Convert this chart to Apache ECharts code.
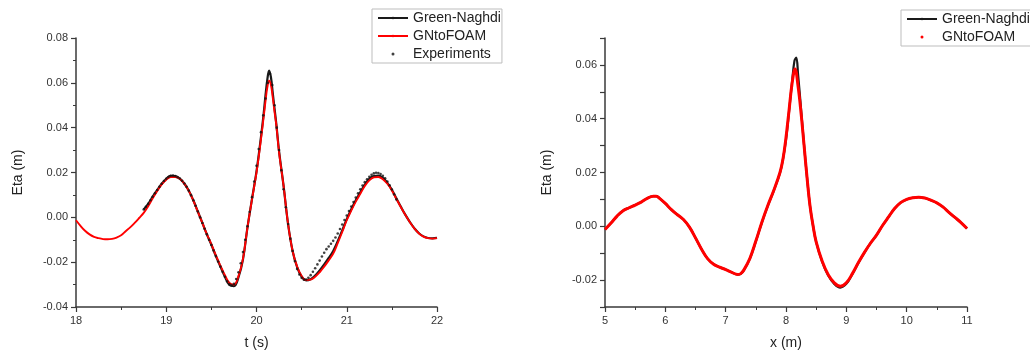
<!DOCTYPE html>
<html>
<head>
<meta charset="utf-8">
<script src="https://cdn.jsdelivr.net/npm/echarts@6/dist/echarts.min.js"></script>
<style>
  html, body { margin: 0; padding: 0; background: #fff; }
  #chart { width: 1030px; height: 351px; }
</style>
</head>
<body>
<div id="chart"></div>
<script>
// ---- left panel: time series at the gauge ----
const foamT = [18.00, 18.05, 18.10, 18.15, 18.20, 18.25, 18.30, 18.35, 18.40, 18.45,
  18.50, 18.55, 18.60, 18.65, 18.70, 18.75, 18.80, 18.85, 18.90, 18.95,
  19.00, 19.05, 19.10, 19.15, 19.20, 19.25, 19.30, 19.35, 19.40, 19.45,
  19.50, 19.55, 19.60, 19.65, 19.70, 19.75, 19.80, 19.85, 19.90, 19.95,
  20.00, 20.05, 20.08, 20.10, 20.12, 20.14, 20.16, 20.18, 20.20, 20.22,
  20.25, 20.30, 20.35, 20.40, 20.45, 20.50, 20.55, 20.60, 20.65, 20.70,
  20.75, 20.80, 20.85, 20.90, 20.95, 21.00, 21.05, 21.10, 21.15, 21.20,
  21.25, 21.30, 21.35, 21.40, 21.45, 21.50, 21.55, 21.60, 21.65, 21.70,
  21.75, 21.80, 21.85, 21.90, 21.95, 22.00];
const foamEta = [-0.0013, -0.0038, -0.0060, -0.0076, -0.0087, -0.0093, -0.0097, -0.0098, -0.0096, -0.0090,
  -0.0080, -0.0062, -0.0045, -0.0025, -0.0003, 0.0020, 0.0050, 0.0085, 0.0118, 0.0147,
  0.0168, 0.0180, 0.0180, 0.0172, 0.0150, 0.0118, 0.0075, 0.0025, -0.0025, -0.0075,
  -0.0120, -0.0170, -0.0215, -0.0258, -0.0293, -0.0300, -0.0262, -0.0185, -0.0045, 0.0080,
  0.0200, 0.0350, 0.0450, 0.0520, 0.0580, 0.0610, 0.0590, 0.0535, 0.0470, 0.0410,
  0.0290, 0.0140, -0.0030, -0.0150, -0.0220, -0.0262, -0.0280, -0.0278, -0.0265, -0.0245,
  -0.0220, -0.0192, -0.0162, -0.0115, -0.0065, -0.0013, 0.0030, 0.0070, 0.0105, 0.0140,
  0.0165, 0.0178, 0.0180, 0.0170, 0.0150, 0.0120, 0.0082, 0.0045, 0.0010, -0.0022,
  -0.0050, -0.0072, -0.0086, -0.0093, -0.0095, -0.0093];

const gnT = [18.75, 18.80, 18.85, 18.90, 18.95, 19.00, 19.05, 19.10, 19.15, 19.20,
  19.25, 19.30, 19.35, 19.40, 19.45, 19.50, 19.55, 19.60, 19.65, 19.70,
  19.75, 19.80, 19.85, 19.90, 19.95, 20.00, 20.05, 20.08, 20.10, 20.12,
  20.14, 20.16, 20.18, 20.20, 20.22, 20.25, 20.30, 20.35, 20.40, 20.45,
  20.50, 20.55, 20.60, 20.65, 20.70, 20.75, 20.80, 20.85, 20.90, 20.95,
  21.00, 21.05, 21.10, 21.15, 21.20, 21.25, 21.30, 21.35, 21.40, 21.45,
  21.50, 21.55, 21.60, 21.65, 21.70, 21.75, 21.80, 21.85, 21.90, 21.95, 22.00];
const gnEta = [0.0035, 0.0060, 0.0092, 0.0122, 0.0150, 0.0172, 0.0185, 0.0184, 0.0173, 0.0151,
  0.0119, 0.0076, 0.0026, -0.0025, -0.0076, -0.0123, -0.0173, -0.0220, -0.0265, -0.0302,
  -0.0307, -0.0268, -0.0188, -0.0045, 0.0082, 0.0205, 0.0360, 0.0465, 0.0545, 0.0615,
  0.0655, 0.0625, 0.0555, 0.0485, 0.0415, 0.0295, 0.0140, -0.0030, -0.0150, -0.0222,
  -0.0265, -0.0281, -0.0276, -0.0260, -0.0237, -0.0210, -0.0181, -0.0150, -0.0106, -0.0058,
  -0.0008, 0.0036, 0.0076, 0.0112, 0.0146, 0.0172, 0.0184, 0.0186, 0.0176, 0.0154,
  0.0123, 0.0085, 0.0047, 0.0011, -0.0021, -0.0049, -0.0071, -0.0085, -0.0092, -0.0094, -0.0092];

// gauge record, one sample every 0.025 s from 18.75 s
const expStart = 18.75;
const expStep = 0.025;
const expEta = [0.0035, 0.0047, 0.0060, 0.0076, 0.0092, 0.0107, 0.0122, 0.0136, 0.0150, 0.0162,
  0.0172, 0.0180, 0.0185, 0.0186, 0.0184, 0.0179, 0.0173, 0.0163, 0.0151, 0.0136,
  0.0119, 0.0099, 0.0076, 0.0052, 0.0026, 0.0000, -0.0025, -0.0051, -0.0076, -0.0100,
  -0.0123, -0.0148, -0.0173, -0.0197, -0.0220, -0.0243, -0.0265, -0.0285, -0.0298, -0.0303,
  -0.0297, -0.0275, -0.0245, -0.0205, -0.0155, -0.0100, -0.0040, 0.0025, 0.0090, 0.0160,
  0.0230, 0.0305, 0.0380, 0.0455, 0.0530, 0.0600, 0.0640, 0.0590, 0.0500, 0.0400,
  0.0300, 0.0210, 0.0125, 0.0045, -0.0030, -0.0095, -0.0150, -0.0195, -0.0230, -0.0255,
  -0.0270, -0.0278, -0.0277, -0.0270, -0.0258, -0.0243, -0.0227, -0.0210, -0.0193, -0.0175,
  -0.0158, -0.0142, -0.0130, -0.0118, -0.0105, -0.0090, -0.0072, -0.0052, -0.0032, -0.0012,
  0.0008, 0.0028, 0.0048, 0.0068, 0.0088, 0.0107, 0.0125, 0.0142, 0.0157, 0.0170,
  0.0181, 0.0190, 0.0196, 0.0199, 0.0198, 0.0193, 0.0185, 0.0174, 0.0160, 0.0143,
  0.0124, 0.0103, 0.0080];

// ---- right panel: free surface along the flume ----
const foamX = [5.0, 5.1, 5.2, 5.3, 5.4, 5.5, 5.6, 5.7, 5.8, 5.85,
  5.9, 6.0, 6.1, 6.2, 6.3, 6.4, 6.5, 6.6, 6.7, 6.8,
  6.9, 7.0, 7.1, 7.2, 7.25, 7.3, 7.4, 7.5, 7.6, 7.7,
  7.8, 7.9, 7.95, 8.0, 8.05, 8.1, 8.15, 8.2, 8.25, 8.3,
  8.35, 8.4, 8.45, 8.5, 8.6, 8.7, 8.8, 8.9, 9.0, 9.1,
  9.2, 9.3, 9.4, 9.5, 9.6, 9.7, 9.8, 9.9, 10.0, 10.1,
  10.2, 10.3, 10.4, 10.5, 10.6, 10.7, 10.8, 10.9, 11.0];
const foamXEta = [-0.0012, 0.0012, 0.0038, 0.0058, 0.0069, 0.0079, 0.0090, 0.0104, 0.0112, 0.0112,
  0.0105, 0.0085, 0.0062, 0.0043, 0.0025, -0.0003, -0.0043, -0.0085, -0.0120, -0.0141,
  -0.0152, -0.0161, -0.0171, -0.0179, -0.0176, -0.0163, -0.0120, -0.0055, 0.0015, 0.0078,
  0.0135, 0.0200, 0.0250, 0.0330, 0.0430, 0.0530, 0.0585, 0.0520, 0.0420, 0.0300,
  0.0178, 0.0072, 0.0000, -0.0058, -0.0130, -0.0180, -0.0210, -0.0223, -0.0210, -0.0176,
  -0.0135, -0.0097, -0.0063, -0.0033, 0.0003, 0.0035, 0.0066, 0.0088, 0.0100, 0.0106,
  0.0108, 0.0105, 0.0097, 0.0087, 0.0072, 0.0052, 0.0033, 0.0014, -0.0008];

const gnX = [5.0, 5.1, 5.2, 5.3, 5.4, 5.5, 5.6, 5.7, 5.8, 5.85,
  5.9, 6.0, 6.1, 6.2, 6.3, 6.4, 6.5, 6.6, 6.7, 6.8,
  6.9, 7.0, 7.1, 7.2, 7.25, 7.3, 7.4, 7.5, 7.6, 7.7,
  7.8, 7.9, 7.95, 8.0, 8.05, 8.1, 8.14, 8.17, 8.2, 8.25,
  8.3, 8.35, 8.4, 8.45, 8.5, 8.6, 8.7, 8.8, 8.9, 9.0,
  9.1, 9.2, 9.3, 9.4, 9.5, 9.6, 9.7, 9.8, 9.9, 10.0,
  10.1, 10.2, 10.3, 10.4, 10.5, 10.6, 10.7, 10.8, 10.9, 11.0];
const gnXEta = [-0.0012, 0.0012, 0.0038, 0.0058, 0.0069, 0.0079, 0.0090, 0.0104, 0.0112, 0.0112,
  0.0105, 0.0085, 0.0062, 0.0043, 0.0025, -0.0003, -0.0043, -0.0085, -0.0120, -0.0141,
  -0.0152, -0.0161, -0.0171, -0.0180, -0.0177, -0.0164, -0.0121, -0.0056, 0.0014, 0.0077,
  0.0134, 0.0198, 0.0250, 0.0322, 0.0425, 0.0535, 0.0615, 0.0627, 0.0565, 0.0435,
  0.0300, 0.0178, 0.0072, 0.0000, -0.0058, -0.0132, -0.0183, -0.0214, -0.0228, -0.0214,
  -0.0178, -0.0136, -0.0098, -0.0063, -0.0033, 0.0003, 0.0035, 0.0066, 0.0088, 0.0100,
  0.0106, 0.0108, 0.0105, 0.0097, 0.0087, 0.0072, 0.0052, 0.0033, 0.0014, -0.0008];

const pairs = (xs, ys) => xs.map((x, i) => [x, ys[i]]);
const expData = expEta.map((v, i) => [expStart + i * expStep, v]);

const FONT = '"Liberation Sans", Arial, sans-serif';
const AXIS_COLOR = '#3a3a3a';

function xAxisCfg(gridIndex, min, max, name) {
  return {
    type: 'value', gridIndex, min, max, interval: 1,
    name, nameLocation: 'middle', nameGap: 29,
    nameTextStyle: { fontFamily: FONT, fontSize: 14, color: '#222' },
    axisLine: { show: true, onZero: false, lineStyle: { color: AXIS_COLOR, width: 1.5 } },
    axisTick: { show: true, inside: false, length: 5, lineStyle: { color: AXIS_COLOR, width: 1.2 } },
    minorTick: { show: true, splitNumber: 2, length: 3, lineStyle: { color: AXIS_COLOR, width: 1 } },
    axisLabel: { fontFamily: FONT, fontSize: 11, color: '#333', margin: 8 },
    splitLine: { show: false }
  };
}

function yAxisCfg(gridIndex, min, max, interval, formatter, minor) {
  return {
    type: 'value', gridIndex, min, max, interval,
    name: 'Eta (m)', nameLocation: 'middle', nameGap: 51,
    nameTextStyle: { fontFamily: FONT, fontSize: 14, color: '#222' },
    axisLine: { show: true, onZero: false, lineStyle: { color: AXIS_COLOR, width: 1.5 } },
    axisTick: { show: true, inside: false, length: 5, lineStyle: { color: AXIS_COLOR, width: 1.2 } },
    minorTick: { show: minor, splitNumber: 2, length: 3, lineStyle: { color: AXIS_COLOR, width: 1 } },
    axisLabel: { fontFamily: FONT, fontSize: 11, color: '#333', margin: 8, formatter },
    splitLine: { show: false }
  };
}

const fmt2 = v => (Math.abs(v) < 1e-9 ? '0.00' : v.toFixed(2));
const fmtEven = v => {
  const k = Math.round(v * 100);
  if (k % 2 !== 0) return '';
  return k === 0 ? '0.00' : (k / 100).toFixed(2);
};

const legendBase = {
  orient: 'vertical',
  backgroundColor: '#fff',
  borderColor: '#bdbdbd',
  borderWidth: 1,
  padding: [2, 1, 2, 5],
  itemGap: 4,
  itemWidth: 30,
  itemHeight: 3,
  textStyle: { fontFamily: FONT, fontSize: 14, color: '#222', lineHeight: 14 }
};

const option = {
  animation: false,
  grid: [
    { left: 76, top: 38, width: 361, height: 269, outerBoundsMode: 'none' },
    { left: 605, top: 38, width: 362, height: 269, outerBoundsMode: 'none' }
  ],
  xAxis: [xAxisCfg(0, 18, 22, 't (s)'), xAxisCfg(1, 5, 11, 'x (m)')],
  yAxis: [
    yAxisCfg(0, -0.04, 0.08, 0.02, fmt2, true),
    yAxisCfg(1, -0.03, 0.07, 0.01, fmtEven, false)
  ],
  legend: [
    Object.assign({}, legendBase, {
      left: 372, top: 9,
      data: [
        { name: 'Green-Naghdi' },
        { name: 'GNtoFOAM' },
        { name: 'Experiments', icon: 'circle' }
      ]
    }),
    Object.assign({}, legendBase, {
      left: 901, top: 10,
      data: [
        { name: 'Green-Naghdi ' },
        { name: 'GNtoFOAM ', icon: 'circle' }
      ]
    })
  ],
  series: [
    {
      name: 'Green-Naghdi', type: 'line', xAxisIndex: 0, yAxisIndex: 0,
      data: pairs(gnT, gnEta), smooth: 0.4, symbol: 'none',
      color: '#1a1a1a', lineStyle: { color: '#1a1a1a', width: 2.2 }, z: 2
    },
    {
      name: 'GNtoFOAM', type: 'line', xAxisIndex: 0, yAxisIndex: 0,
      data: pairs(foamT, foamEta), smooth: 0.4, symbol: 'none',
      color: '#ff0000', lineStyle: { color: '#ff0000', width: 1.9 }, z: 3
    },
    {
      name: 'Experiments', type: 'scatter', xAxisIndex: 0, yAxisIndex: 0,
      data: expData, symbol: 'circle', symbolSize: 2.6,
      itemStyle: { color: '#111' }, z: 4
    },
    {
      name: 'Green-Naghdi ', type: 'line', xAxisIndex: 1, yAxisIndex: 1,
      data: pairs(gnX, gnXEta), smooth: 0.4, symbol: 'none',
      color: '#1a1a1a', lineStyle: { color: '#1a1a1a', width: 2.2 }, z: 2
    },
    {
      name: 'GNtoFOAM ', type: 'line', xAxisIndex: 1, yAxisIndex: 1,
      data: pairs(foamX, foamXEta), smooth: 0.4, symbol: 'none',
      color: '#ff0000', lineStyle: { color: '#ff0000', width: 3 }, z: 3
    }
  ]
};

const chart = echarts.init(document.getElementById('chart'));
chart.setOption(option);
window.addEventListener('resize', chart.resize);
</script>
</body>
</html>
